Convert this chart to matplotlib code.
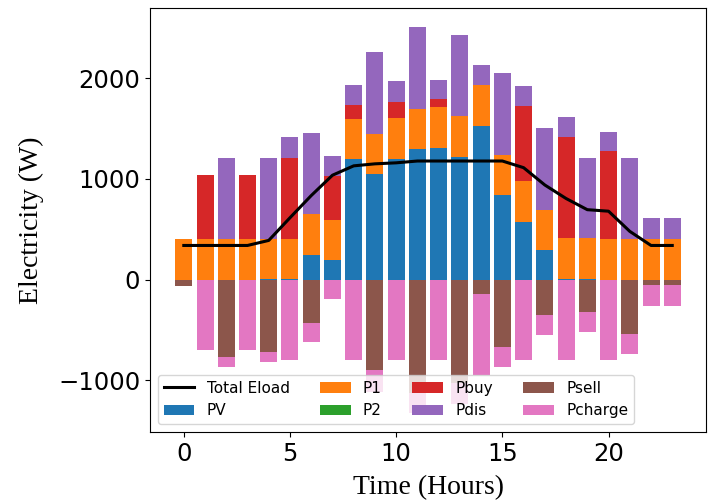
import numpy as np
import matplotlib.pyplot as plt
from matplotlib.ticker import MultipleLocator

# hourly power flows (W)
hours = np.arange(24)
pv = [0, 0, 0, 0, 10, 10, 250, 195, 1195, 1050, 1195, 1295,
      1310, 1215, 1525, 840, 570, 295, 10, 10, 0, 0, 0, 0]
p1 = [400, 400, 400, 400, 395, 395, 400, 400, 400, 400, 410, 400,
      400, 410, 410, 400, 410, 400, 400, 400, 400, 400, 400, 400]
p2 = [0] * 24
pbuy = [0, 640, 0, 640, 0, 800, 0, 435, 135, 0, 160, 0,
        80, 0, 0, 0, 740, 0, 1005, 0, 880, 0, 0, 0]
pdis = [0, 0, 810, 0, 805, 210, 805, 200, 200, 810, 210, 810,
        195, 800, 195, 810, 205, 810, 200, 800, 190, 810, 210, 210]
psell = [-60, 0, -770, 0, -720, 0, -425, 0, 0, -900, 0, -1120,
         0, -1020, -140, -665, 0, -355, 0, -320, 0, -540, -57, -57]
pcharge = [0, -700, -100, -700, -100, -800, -190, -195, -796, -210, -796, -200,
           -796, -215, -805, -200, -796, -195, -796, -200, -796, -195, -205, -205]
eload = [340, 340, 340, 340, 390, 615, 835, 1037, 1130, 1150, 1160, 1178,
         1178, 1178, 1178, 1178, 1112, 940, 806, 695, 680, 480, 340, 340]

fig = plt.figure(figsize=(7.08, 5.01), dpi=100)
ax = fig.add_axes([0.2119, 0.1377, 0.7853, 0.8463])

pv = np.array(pv)
p1 = np.array(p1)
p2 = np.array(p2)
pbuy = np.array(pbuy)
pdis = np.array(pdis)
psell = np.array(psell)
pcharge = np.array(pcharge)

ax.plot(hours, eload, color='black', linewidth=2.2, label='Total Eload', zorder=3)
ax.bar(hours, pv, label='PV', color='C0')
ax.bar(hours, p1, bottom=pv, label='P1', color='C1')
ax.bar(hours, p2, bottom=pv + p1, label='P2', color='C2')
ax.bar(hours, pbuy, bottom=pv + p1 + p2, label='Pbuy', color='C3')
ax.bar(hours, pdis, bottom=pv + p1 + p2 + pbuy, label='Pdis', color='C4')
ax.bar(hours, psell, label='Psell', color='C5')
ax.bar(hours, pcharge, bottom=psell, label='Pcharge', color='C6')

ax.yaxis.set_major_locator(MultipleLocator(1000))
ax.set_xlabel('Time (Hours)', fontfamily='Liberation Serif', fontsize=20, labelpad=7)
ax.set_ylabel('Electricity (W)', fontfamily='Liberation Serif', fontsize=20, labelpad=10)
ax.tick_params(labelsize=17.5)
ax.legend(ncol=4, loc='lower left', fontsize=11)

plt.savefig('out.png', dpi=100)
